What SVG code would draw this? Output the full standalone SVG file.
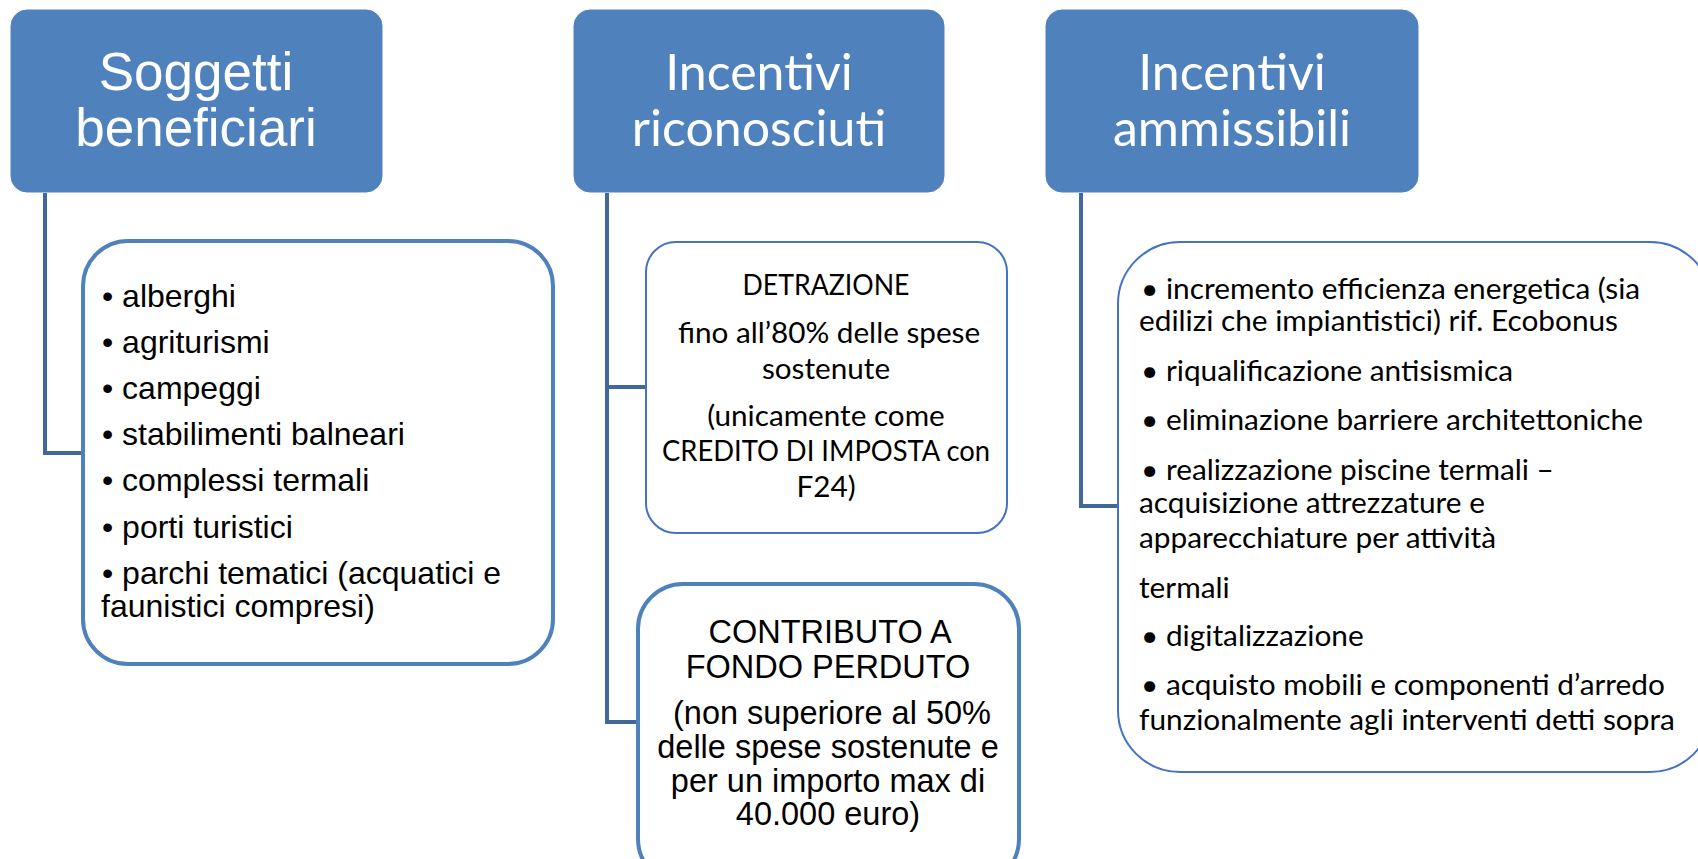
<svg xmlns="http://www.w3.org/2000/svg" width="1698" height="859" viewBox="0 0 1698 859">
<style>
.hdr{fill:#4F81BD;stroke:#4F81BD;stroke-width:1}
.hdrA{font-family:"Liberation Sans",Arial,sans-serif;font-size:53px;fill:#fff;text-anchor:middle}
.hdrC{font-family:Lato,"Open Sans",sans-serif;font-size:50px;fill:#fff;text-anchor:middle}
.boxT{fill:#fff;stroke:#4F81BD;stroke-width:4}
.boxt{fill:#fff;stroke:#4472C4;stroke-width:2}
.a29{font-family:"Liberation Sans",Arial,sans-serif;font-size:32px;fill:#000}
.a31{font-family:"Liberation Sans",Arial,sans-serif;font-size:32.5px;fill:#000;text-anchor:middle}
.c28{font-family:Lato,"Open Sans",sans-serif;font-size:29.8px;fill:#000}
.c28m{font-family:Lato,"Open Sans",sans-serif;font-size:29.7px;fill:#000;text-anchor:middle}
.conn{fill:none;stroke:#41689A;stroke-width:4}
</style>
<g id="connectors">
<polyline class="conn" points="45,193 45,453 83,453"/>
<polyline class="conn" points="607,193 607,722 638,722"/>
<line class="conn" x1="607" y1="387" x2="646" y2="387"/>
<polyline class="conn" points="1081,193 1081,506 1118,506"/>
</g>
<g id="hdr1">
<rect class="hdr" x="11" y="10" width="371" height="182" rx="16"/>
<text class="hdrA" x="196" y="90">Soggetti</text>
<text class="hdrA" x="196" y="146">beneficiari</text>
</g>
<g id="hdr2">
<rect class="hdr" x="574" y="10" width="370" height="182" rx="16"/>
<text class="hdrC" x="759" y="90">Incentivi</text>
<text class="hdrC" x="759" y="146">riconosciuti</text>
</g>
<g id="hdr3">
<rect class="hdr" x="1046" y="10" width="372" height="182" rx="16"/>
<text class="hdrC" x="1232" y="90">Incentivi</text>
<text class="hdrC" x="1232" y="146">ammissibili</text>
</g>
<g id="box1">
<rect class="boxT" x="83" y="241" width="470" height="423" rx="45"/>
<text class="a29" x="102" y="307">• alberghi</text>
<text class="a29" x="102" y="353">• agriturismi</text>
<text class="a29" x="102" y="399">• campeggi</text>
<text class="a29" x="102" y="445">• stabilimenti balneari</text>
<text class="a29" x="102" y="491">• complessi termali</text>
<text class="a29" x="102" y="538">• porti turistici</text>
<text class="a29" x="102" y="584">• parchi tematici (acquatici e</text>
<text class="a29" x="101" y="617">faunistici compresi)</text>
</g>
<g id="box2a">
<rect class="boxt" x="646" y="242" width="361" height="291" rx="30"/>
<text class="c28m" x="826" y="295" textLength="167" lengthAdjust="spacingAndGlyphs">DETRAZIONE</text>
<text class="c28m" x="829" y="343">fino all’80% delle spese</text>
<text class="c28m" x="826" y="379">sostenute</text>
<text class="c28m" x="826" y="426">(unicamente come</text>
<text class="c28m" x="826" y="461" textLength="328" lengthAdjust="spacingAndGlyphs">CREDITO DI IMPOSTA con</text>
<text class="c28m" x="826" y="497">F24)</text>
</g>
<g id="box2b">
<rect class="boxT" x="638" y="584" width="381" height="300" rx="45"/>
<text class="a31" x="830" y="643">CONTRIBUTO A</text>
<text class="a31" x="828" y="678">FONDO PERDUTO</text>
<text class="a31" x="832" y="724">(non superiore al 50%</text>
<text class="a31" x="828" y="758">delle spese sostenute e</text>
<text class="a31" x="828" y="792">per un importo max di</text>
<text class="a31" x="828" y="825">40.000 euro)</text>
</g>
<g id="box3">
<rect class="boxt" x="1118" y="242" width="594" height="530" rx="62"/>
<text class="c28" x="1141" y="299">• incremento efficienza energetica (sia</text>
<text class="c28" x="1139" y="331">edilizi che impiantistici) rif. Ecobonus</text>
<text class="c28" x="1141" y="381">• riqualificazione antisismica</text>
<text class="c28" x="1141" y="430">• eliminazione barriere architettoniche</text>
<text class="c28" x="1141" y="480">• realizzazione piscine termali –</text>
<text class="c28" x="1139" y="513">acquisizione attrezzature e</text>
<text class="c28" x="1139" y="548">apparecchiature per attività</text>
<text class="c28" x="1139" y="598">termali</text>
<text class="c28" x="1141" y="646">• digitalizzazione</text>
<text class="c28" x="1141" y="695">• acquisto mobili e componenti d’arredo</text>
<text class="c28" x="1139" y="730">funzionalmente agli interventi detti sopra</text>
</g>
</svg>
